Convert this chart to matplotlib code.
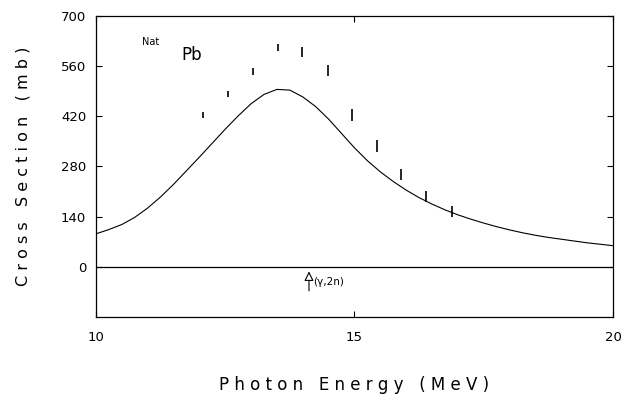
import matplotlib
matplotlib.use("Agg")
import matplotlib.pyplot as plt

# measured (gamma, xn) points for natural Pb
energy = [12.07, 12.55, 13.04, 13.52, 13.99, 14.48, 14.95, 15.44, 15.90, 16.38, 16.88]
sigma = [424, 482, 545, 613, 599, 547, 424, 337, 257, 196, 154]
sigma_err = [8, 9, 9, 10, 13, 15, 16, 16, 16, 15, 15]

# calculated curve, every 0.25 MeV
curve_e = [10.0, 10.25, 10.5, 10.75, 11.0, 11.25, 11.5, 11.75, 12.0, 12.25,
           12.5, 12.75, 13.0, 13.25, 13.5, 13.75, 14.0, 14.25, 14.5, 14.75,
           15.0, 15.25, 15.5, 15.75, 16.0, 16.25, 16.5, 16.75, 17.0, 17.25,
           17.5, 17.75, 18.0, 18.25, 18.5, 18.75, 19.0, 19.25, 19.5, 19.75,
           20.0]
curve_s = [92, 104, 118, 138, 164, 195, 230, 268, 306, 345,
           384, 421, 455, 481, 495, 493, 474, 447, 412, 372,
           332, 296, 265, 238, 214, 193, 175, 159, 145, 133,
           122, 112, 103, 95, 88, 82, 77, 72, 67, 63,
           59]

threshold = 14.12  # (y,2n) threshold

yticks = [0, 140, 280, 420, 560, 700]
xticks = [10, 15, 20]

fig = plt.figure(figsize=(6.23, 3.98), dpi=100)
ax = fig.add_axes([0.154, 0.2035, 0.83, 0.7565])

ax.plot(curve_e, curve_s, color="black", lw=0.8)
ax.errorbar(energy, sigma, yerr=sigma_err, fmt="none", ecolor="black",
            elinewidth=1.2, capsize=0)
ax.axhline(0, color="black", lw=0.9)

ax.annotate("", xy=(threshold, -5), xytext=(threshold, -75),
            arrowprops=dict(arrowstyle="-|>", color="black", lw=0.8,
                            fc="white", mutation_scale=14))
ax.text(threshold + 0.08, -42, "(γ,2n)", fontsize=7.5, va="center", ha="left")

ax.text(10.9, 627, "Nat", fontsize=7, ha="left", va="center")
ax.text(11.65, 590, "Pb", fontsize=12, ha="left", va="center")

ax.set_xlim(10, 20)
ax.set_ylim(-140, 700)
ax.set_xticks(xticks)
ax.set_yticks(yticks)
ax.tick_params(direction="in", length=4, width=0.8, labelsize=9.5,
               top=True, right=True)
ax.tick_params(axis="x", pad=10)
ax.tick_params(axis="y", pad=7)
for s in ax.spines.values():
    s.set_linewidth(0.9)

ax.set_xlabel("P h o t o n   E n e r g y   ( M e V )", fontsize=12, labelpad=23)
ax.set_ylabel("C r o s s   S e c t i o n   ( m b )", fontsize=11.5, labelpad=22)

fig.savefig("out.png", dpi=100)
